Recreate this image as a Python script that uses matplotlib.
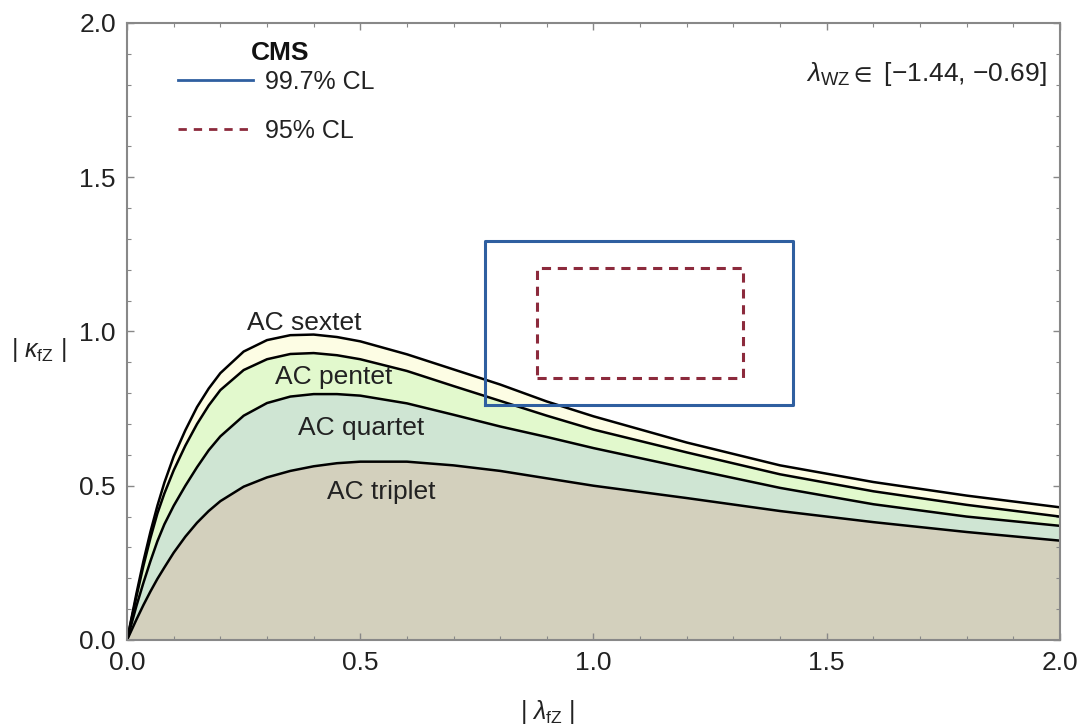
import numpy as np
import matplotlib
matplotlib.use("Agg")
import matplotlib.pyplot as plt
from matplotlib.lines import Line2D
from matplotlib.ticker import MultipleLocator

plt.rcParams['font.family'] = ['Liberation Sans', 'DejaVu Sans']
plt.rcParams['mathtext.fontset'] = 'custom'
plt.rcParams['mathtext.rm'] = 'Liberation Sans'
plt.rcParams['mathtext.it'] = 'Liberation Sans:italic'
plt.rcParams['mathtext.bf'] = 'Liberation Sans:bold'
plt.rcParams['mathtext.fallback'] = 'stixsans'

# |lambda_fZ| grid and the four boundary curves |kappa_fZ|
lam = [0, 0.01, 0.02, 0.035, 0.05, 0.065, 0.08, 0.1, 0.125, 0.15, 0.175, 0.2, 0.25, 0.3,
       0.35, 0.4, 0.45, 0.5, 0.6, 0.7, 0.8, 0.9, 1.0, 1.2, 1.4, 1.6, 1.8, 2.0]
sextet = [0, 0.075, 0.15, 0.255, 0.35, 0.435, 0.51, 0.595, 0.68, 0.755, 0.815, 0.865, 0.935, 0.972,
          0.988, 0.99, 0.982, 0.968, 0.926, 0.877, 0.828, 0.773, 0.725, 0.64, 0.566, 0.512, 0.468, 0.43]
pentet = [0, 0.07, 0.14, 0.24, 0.33, 0.41, 0.475, 0.55, 0.63, 0.70, 0.76, 0.81, 0.875, 0.91,
          0.927, 0.93, 0.923, 0.91, 0.872, 0.823, 0.775, 0.727, 0.682, 0.608, 0.537, 0.482, 0.438, 0.40]
quartet = [0, 0.055, 0.11, 0.185, 0.255, 0.32, 0.375, 0.435, 0.50, 0.56, 0.615, 0.66, 0.727, 0.768,
           0.789, 0.797, 0.797, 0.792, 0.767, 0.73, 0.692, 0.658, 0.622, 0.557, 0.493, 0.44, 0.40, 0.37]
triplet = [0, 0.033, 0.066, 0.113, 0.157, 0.198, 0.235, 0.283, 0.335, 0.38, 0.418, 0.45, 0.497, 0.527,
           0.548, 0.563, 0.573, 0.578, 0.578, 0.566, 0.548, 0.524, 0.50, 0.46, 0.418, 0.382, 0.35, 0.322]

curves = [sextet, pentet, quartet, triplet]
fills = ['#fdfde4', '#e2f9cd', '#cfe5d3', '#d3d0bd']
names = ['AC sextet', 'AC pentet', 'AC quartet', 'AC triplet']
label_pos = [(0.38, 1.028), (0.443, 0.854), (0.502, 0.687), (0.546, 0.481)]

# CL boxes: (lam_lo, lam_hi, kappa_lo, kappa_hi)
box_997 = (0.767, 1.428, 0.762, 1.293)
box_95 = (0.879, 1.320, 0.849, 1.206)

fig = plt.figure(figsize=(10.86, 7.27), dpi=100)
ax = fig.add_axes([0.117, 0.1197, 0.859, 0.8487])

for y, c in zip(curves, fills):
    ax.fill_between(lam, 0, y, color=c, lw=0)
for y in curves:
    ax.plot(lam, y, color='black', lw=1.8, solid_joinstyle='round')
for (tx, ty), n in zip(label_pos, names):
    ax.text(tx, ty, n, fontsize=19, ha='center', va='center', color='#222222')

def box(b, **kw):
    x0, x1, y0, y1 = b
    ax.plot([x0, x1, x1, x0, x0], [y0, y0, y1, y1, y0], **kw)

blue = '#2f5fa0'
red = '#8c2a3c'
box(box_997, color=blue, lw=2.2)
box(box_95, color=red, lw=2.2, ls=(0, (3, 2.2)), dash_joinstyle='round')

ax.set_xlim(0, 2)
ax.set_ylim(0, 2)
ax.xaxis.set_major_locator(MultipleLocator(0.5))
ax.yaxis.set_major_locator(MultipleLocator(0.5))
ax.xaxis.set_minor_locator(MultipleLocator(0.1))
ax.yaxis.set_minor_locator(MultipleLocator(0.1))
ax.tick_params(which='both', direction='in', top=True, right=True, color='#888888',
               labelsize=19, labelcolor='#222222')
ax.tick_params(which='major', length=5, width=1.0, pad=8)
ax.tick_params(which='minor', length=3, width=0.8)
for s in ax.spines.values():
    s.set_color('#888888')
    s.set_linewidth(1.5)

ax.set_xlabel(r'| $\lambda_{\rm fZ}$ |', fontsize=18, color='#222222')
ax.xaxis.set_label_coords(0.451, -0.094)
ax.set_ylabel(r'| $\kappa_{\rm fZ}$ |', fontsize=18, rotation=0, color='#222222',
              va='center', ha='center')
ax.yaxis.set_label_coords(-0.095, 0.47)

ax.text(0.986, 0.918, r'$\lambda_{\rm WZ} \in$ [−1.44, −0.69]', transform=ax.transAxes,
        ha='right', va='center', fontsize=19, color='#222222')

ax.text(0.164, 0.951, 'CMS', transform=ax.transAxes, ha='center', va='center',
        fontsize=19, fontweight='bold', color='#111111')

handles = [Line2D([], [], color=blue, lw=2),
           Line2D([], [], color=red, lw=2, ls=(0, (3, 2.5)))]
leg = ax.legend(handles, ['99.7% CL', '95% CL'], loc='upper left',
                bbox_to_anchor=(0.031, 0.961), frameon=False, fontsize=18,
                handlelength=3.0, handletextpad=0.48, labelspacing=1.0)
for t in leg.get_texts():
    t.set_color('#222222')

fig.savefig('out.png', dpi=100)
